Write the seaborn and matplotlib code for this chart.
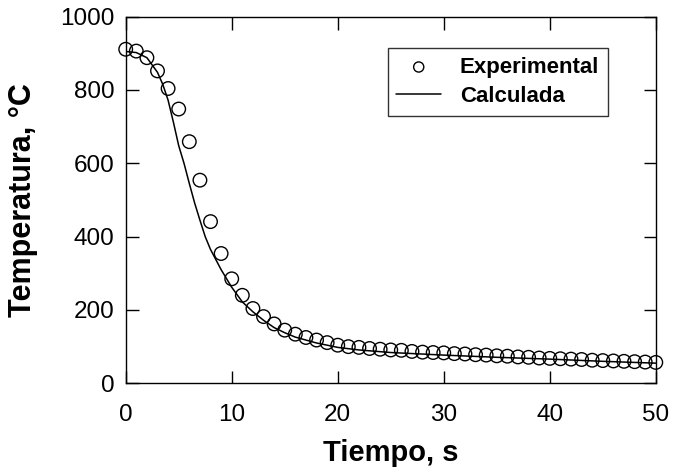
import matplotlib
matplotlib.use("Agg")
import matplotlib.pyplot as plt
import seaborn as sns
import pandas as pd

# Measured cooling curve (one reading per second)
exp_time = list(range(0, 51))
exp_temp = [911, 906, 888, 852, 804, 748, 659, 554, 441, 354,
            285, 240, 204, 182, 162, 145, 134, 125, 118, 111,
            104, 100, 98, 95, 93, 91, 90, 87, 85, 84,
            83, 81, 80, 78, 77, 75, 74, 72, 71, 69,
            68, 67, 66, 65, 63, 62, 61, 60, 59, 58, 57]

# Model prediction
calc_time = [0, 1, 2, 3, 3.5, 4, 4.5, 5, 5.5, 6, 6.5, 7, 7.5, 8, 9, 10,
             11, 12, 13, 14, 15, 16, 18, 20, 22, 25, 30, 35, 40, 45, 50]
calc_temp = [905, 902, 888, 848, 815, 772, 712, 648, 600, 545, 492, 445,
             400, 365, 310, 262, 222, 195, 172, 152, 138, 126, 110, 98,
             91, 84, 77, 71, 66, 60, 55]

x_ticks = [0, 10, 20, 30, 40, 50]
y_ticks = [0, 200, 400, 600, 800, 1000]

exp_df = pd.DataFrame({"t": exp_time, "T": exp_temp})
calc_df = pd.DataFrame({"t": calc_time, "T": calc_temp})

sns.set_theme(style="ticks")
plt.rcParams["font.family"] = ["Liberation Sans", "DejaVu Sans"]
plt.rcParams["text.color"] = "black"
plt.rcParams["axes.labelcolor"] = "black"
plt.rcParams["xtick.color"] = "black"
plt.rcParams["ytick.color"] = "black"

fig = plt.figure(figsize=(6.74, 4.75), dpi=100)
ax = fig.add_axes([0.1865, 0.193, 0.7865, 0.772])

sns.lineplot(data=calc_df, x="t", y="T", ax=ax, color="black", lw=1.1,
             label="Calculada", zorder=2)
sns.scatterplot(data=exp_df, x="t", y="T", ax=ax, marker="o", s=95,
                facecolors="none", edgecolor="black", linewidth=1.0,
                label="Experimental", zorder=3, clip_on=False)

ax.set_xlim(0, 50)
ax.set_ylim(0, 1000)
ax.set_xticks(x_ticks)
ax.set_yticks(y_ticks)
ax.tick_params(direction="in", length=9, width=1.0, top=True, right=True,
               labelsize=17.5, colors="black")
ax.tick_params(axis="x", pad=15)
ax.tick_params(axis="y", pad=8)
for sp in ax.spines.values():
    sp.set_visible(True)
    sp.set_linewidth(1.0)
    sp.set_color("black")

ax.set_xlabel("Tiempo, s", fontsize=21, fontweight="bold", labelpad=9)
ax.set_ylabel("Temperatura, °C", fontsize=22, fontweight="bold", labelpad=16)

handles, labels = ax.get_legend_handles_labels()
order = [labels.index("Experimental"), labels.index("Calculada")]
leg = ax.legend([handles[i] for i in order], [labels[i] for i in order],
                loc="upper right", bbox_to_anchor=(0.91, 0.9146),
                borderaxespad=0.0,
                frameon=True, fancybox=False, edgecolor="black",
                prop={"weight": "bold", "size": 16}, handlelength=2.0,
                borderpad=0.4, labelspacing=0.38, handletextpad=0.85,
                markerscale=0.75)
leg.get_frame().set_linewidth(1.0)

fig.savefig("out.png", dpi=100)
